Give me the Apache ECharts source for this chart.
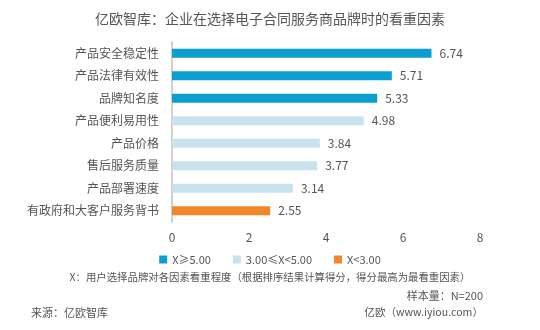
<!DOCTYPE html>
<html><head><meta charset="utf-8">
<script src="https://cdn.jsdelivr.net/npm/echarts@6/dist/echarts.min.js"></script>
<style>html,body{margin:0;padding:0;background:#fff}#c{width:540px;height:330px}</style>
</head><body><div id="c"></div>
<script>
var categories = ['产品安全稳定性','产品法律有效性','品牌知名度','产品便利易用性','产品价格','售后服务质量','产品部署速度','有政府和大客户服务背书'];
var highValues = [6.74, 5.71, 5.33, null, null, null, null, null];
var midValues = [null, null, null, 4.98, 3.84, 3.77, 3.14, null];
var lowValues = [null, null, null, null, null, null, null, 2.55];
var seriesNames = ['X≥5.00', '3.00≤X<5.00', 'X<3.00'];
var xTicks = [0, 2, 4, 6, 8];

var font = '"Noto Sans CJK SC", "Microsoft YaHei", sans-serif';
var colors = ['#0a9fd0', '#c8e3ee', '#f0872a'];
function mk(name, data, color) {
  return {
    name: name, type: 'bar', stack: 's', data: data, barWidth: 9,
    itemStyle: { color: color },
    label: { show: true, position: 'right', distance: 8, color: '#555', fontSize: 12, fontFamily: font,
      formatter: function (p) { return p.value == null ? '' : p.value.toFixed(2); } }
  };
}
var chart = echarts.init(document.getElementById('c'));
chart.setOption({
  animation: false,
  textStyle: { fontFamily: font },
  title: { text: '亿欧智库：企业在选择电子合同服务商品牌时的看重因素', left: 'center', top: 7,
    textStyle: { fontSize: 14, fontWeight: 'normal', color: '#555', fontFamily: font } },
  grid: { left: 172, right: 60, top: 42, bottom: 108, containLabel: false },
  legend: { bottom: 60, left: 'center', itemWidth: 8, itemHeight: 8, itemGap: 22, icon: 'rect',
    textStyle: { fontSize: 11, color: '#555', fontFamily: font }, data: seriesNames },
  xAxis: { type: 'value', min: xTicks[0], max: xTicks[xTicks.length - 1], interval: 2,
    axisLine: { show: false }, axisTick: { show: false }, splitLine: { show: false },
    axisLabel: { color: '#555', fontSize: 12, margin: 9, fontFamily: font } },
  yAxis: { type: 'category', data: categories, inverse: true,
    axisLine: { show: true, lineStyle: { color: '#d3cfcb', width: 2 } },
    axisTick: { show: false },
    axisLabel: { color: '#555', fontSize: 12, margin: 13, fontFamily: font } },
  graphic: [
    { type: 'text', left: 'center', top: 272, style: { text: 'X：用户选择品牌对各因素看重程度（根据排序结果计算得分，得分最高为最看重因素）', fill: '#555', fontSize: 10.4, fontFamily: font } },
    { type: 'text', right: 57, top: 290, style: { text: '样本量：N=200', fill: '#555', fontSize: 11, fontFamily: font } },
    { type: 'text', left: 31, top: 307, style: { text: '来源：亿欧智库', fill: '#555', fontSize: 11, fontFamily: font } },
    { type: 'text', right: 57, top: 307, style: { text: '亿欧（www.iyiou.com）', fill: '#555', fontSize: 10.6, fontFamily: font } }
  ],
  series: [mk(seriesNames[0], highValues, colors[0]), mk(seriesNames[1], midValues, colors[1]), mk(seriesNames[2], lowValues, colors[2])]
});
</script></body></html>
